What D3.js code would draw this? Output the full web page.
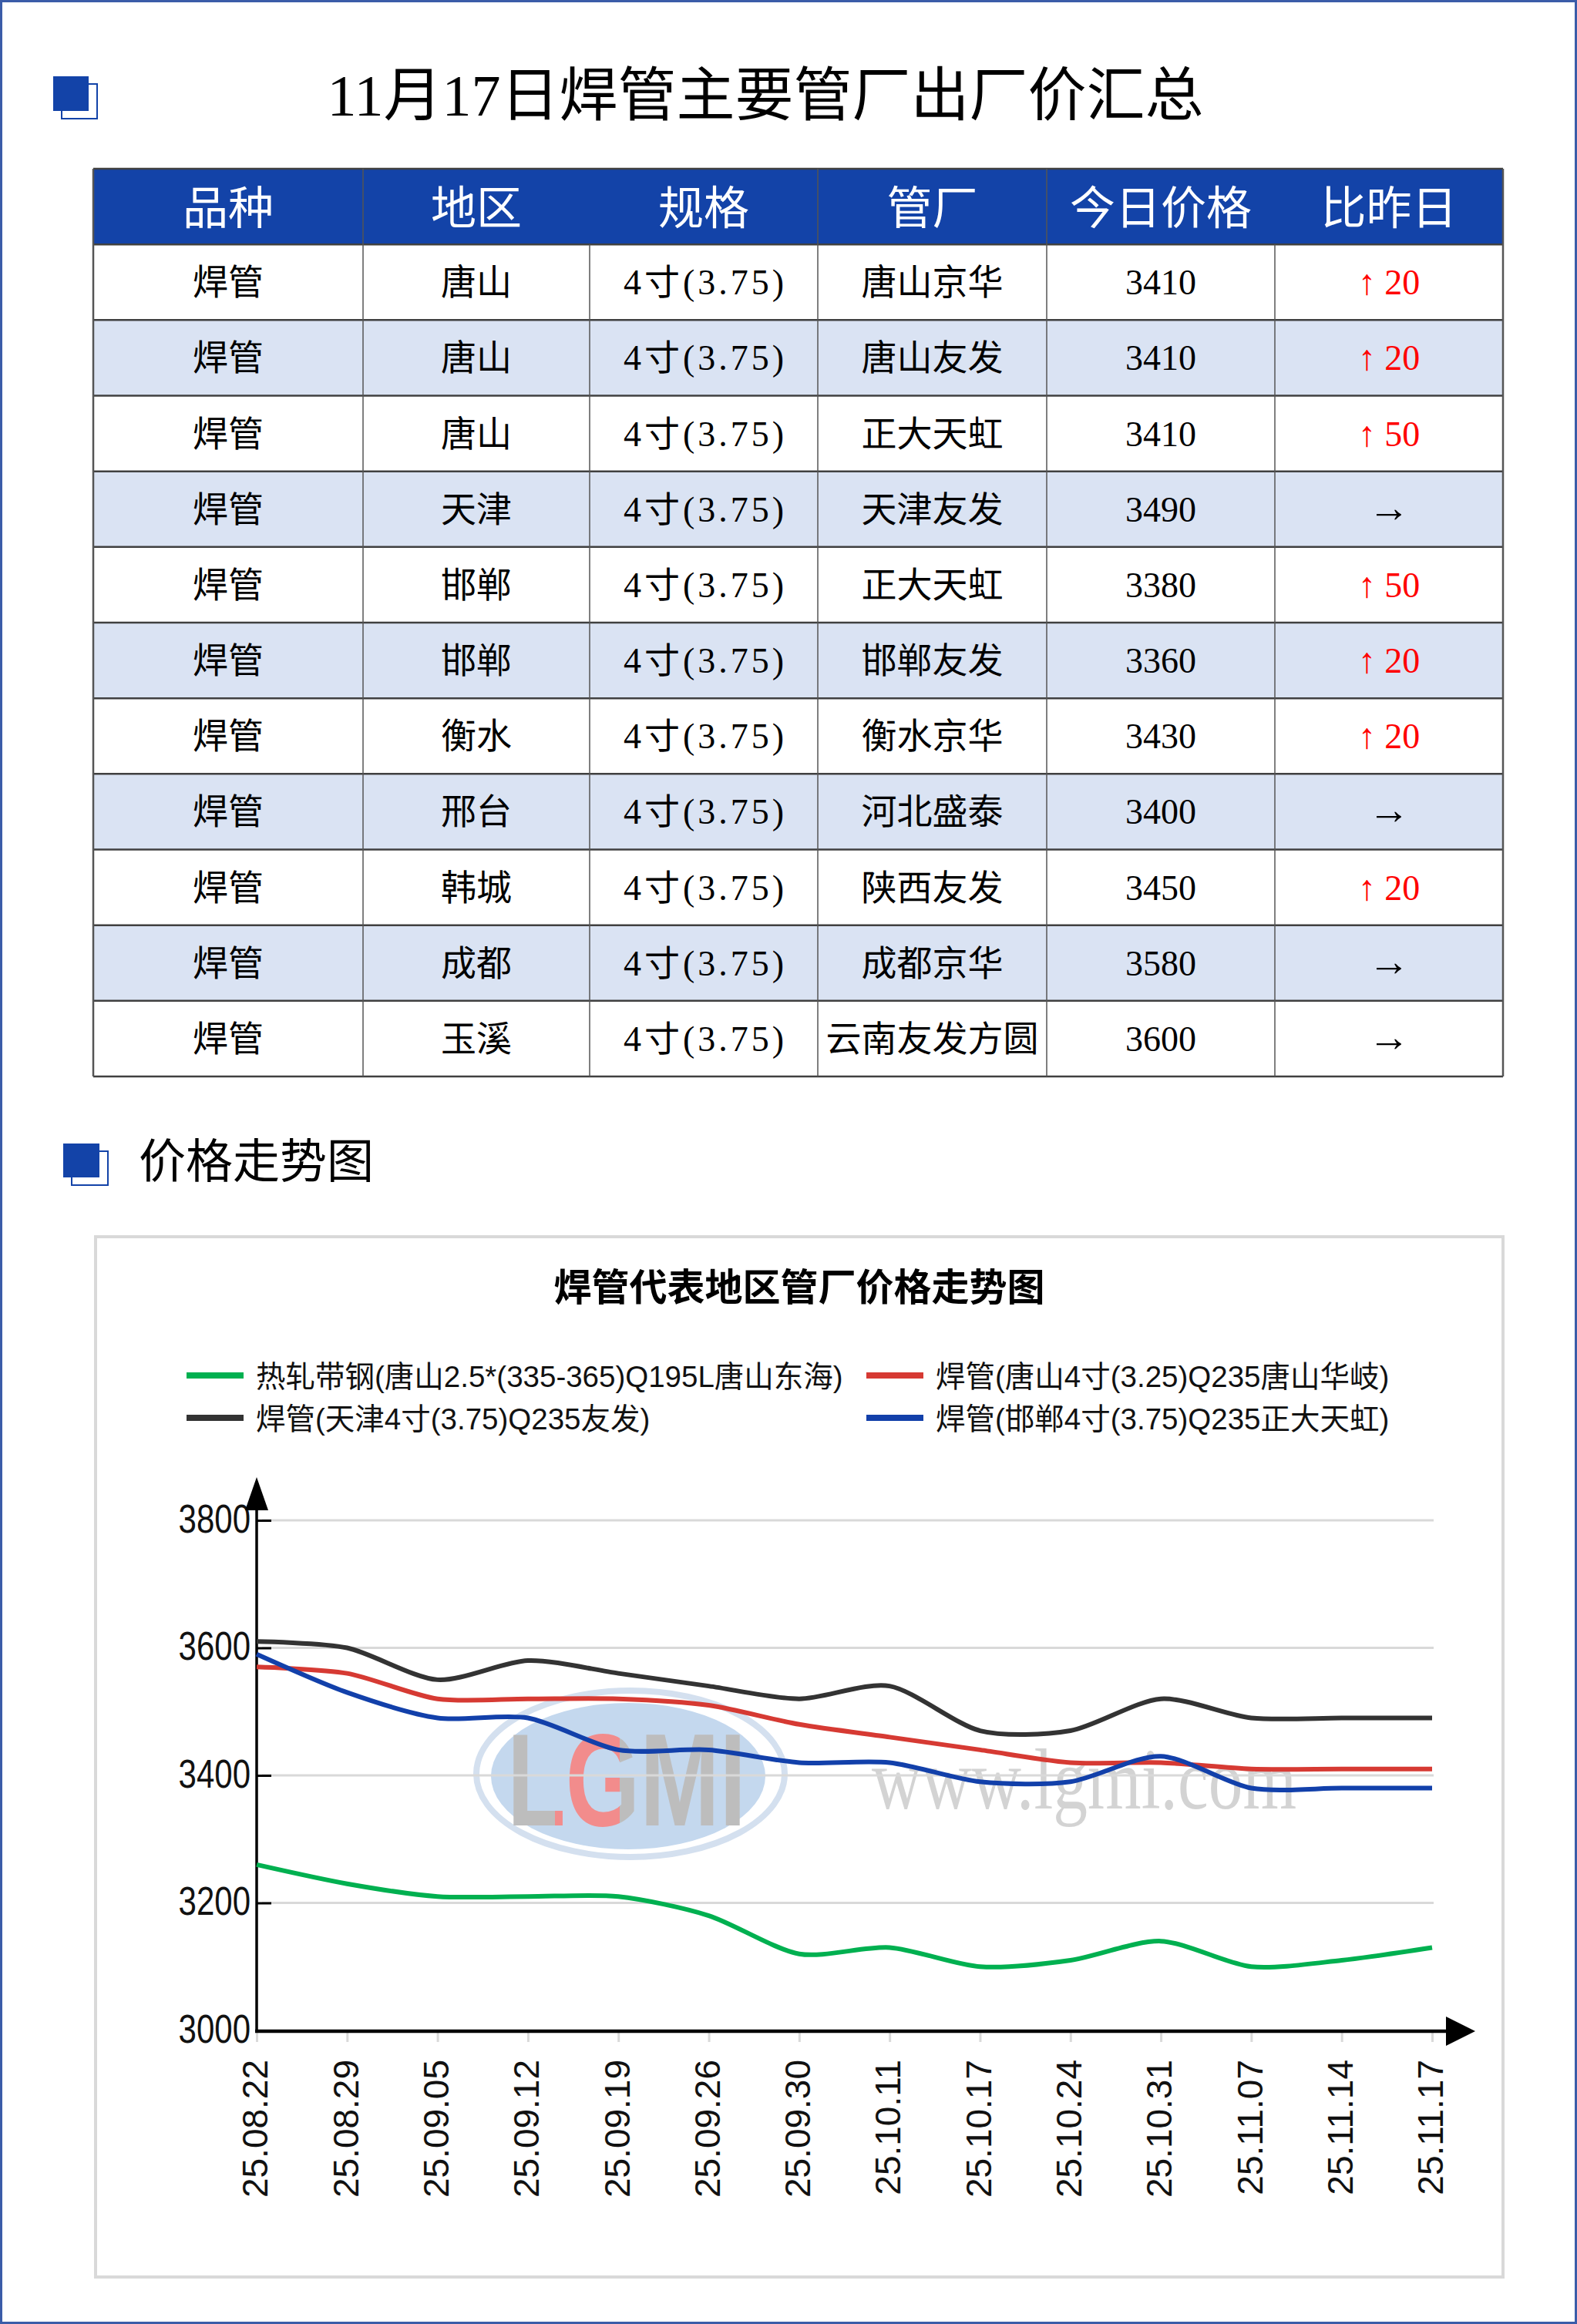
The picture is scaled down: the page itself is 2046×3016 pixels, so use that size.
<!DOCTYPE html>
<html>
<head>
<meta charset="utf-8">
<script src="https://cdn.jsdelivr.net/npm/d3@7"></script>
<style>
  body { margin: 0; background: #fff; }
  svg { display: block; }
</style>
</head>
<body>
<svg width="2046" height="3016"></svg>
<script>
// 表格数据
const tableHeaders = ["品种", "地区", "规格", "管厂", "今日价格", "比昨日"];
const varieties = ["焊管", "焊管", "焊管", "焊管", "焊管", "焊管", "焊管", "焊管", "焊管", "焊管", "焊管"];
const regions = ["唐山", "唐山", "唐山", "天津", "邯郸", "邯郸", "衡水", "邢台", "韩城", "成都", "玉溪"];
const specs = ["4寸(3.75)", "4寸(3.75)", "4寸(3.75)", "4寸(3.75)", "4寸(3.75)", "4寸(3.75)", "4寸(3.75)", "4寸(3.75)", "4寸(3.75)", "4寸(3.75)", "4寸(3.75)"];
const mills = ["唐山京华", "唐山友发", "正大天虹", "天津友发", "正大天虹", "邯郸友发", "衡水京华", "河北盛泰", "陕西友发", "成都京华", "云南友发方圆"];
const prices = [3410, 3410, 3410, 3490, 3380, 3360, 3430, 3400, 3450, 3580, 3600];
const changes = [20, 20, 50, 0, 50, 20, 20, 0, 20, 0, 0];

// 走势图数据
const dates = ["25.08.22", "25.08.29", "25.09.05", "25.09.12", "25.09.19", "25.09.26", "25.09.30",
               "25.10.11", "25.10.17", "25.10.24", "25.10.31", "25.11.07", "25.11.14", "25.11.17"];
const yTicks = [3000, 3200, 3400, 3600, 3800];
const seriesNames = [
  "热轧带钢(唐山2.5*(335-365)Q195L唐山东海)",
  "焊管(唐山4寸(3.25)Q235唐山华岐)",
  "焊管(天津4寸(3.75)Q235友发)",
  "焊管(邯郸4寸(3.75)Q235正大天虹)"
];
const stripTangshan = [3260, 3230, 3210, 3210, 3210, 3180, 3120, 3130, 3100, 3110, 3140, 3100, 3110, 3130];
const pipeTangshan = [3570, 3560, 3520, 3520, 3520, 3510, 3480, 3460, 3440, 3420, 3420, 3410, 3410, 3410];
const pipeTianjin = [3610, 3600, 3550, 3580, 3560, 3540, 3520, 3540, 3470, 3470, 3520, 3490, 3490, 3490];
const pipeHandan = [3590, 3530, 3490, 3490, 3440, 3440, 3420, 3420, 3390, 3390, 3430, 3380, 3380, 3380];

const BLUE = "#1343a8";
const CJK = "'Noto Sans CJK SC', sans-serif";
const SERIF = "'Liberation Serif', 'Noto Sans CJK SC', serif";
const SANS = "'Liberation Sans', 'Noto Sans CJK SC', sans-serif";

const svg = d3.select("svg");

// 页面边框
svg.append("rect")
  .attr("x", 1.5).attr("y", 1.5).attr("width", 2043).attr("height", 3013)
  .attr("fill", "none").attr("stroke", "#3b5ca8").attr("stroke-width", 3);

// 小方块图标
function drawIcon(x, y, w, h) {
  svg.append("rect")
    .attr("x", x + 11).attr("y", y + 10).attr("width", w).attr("height", h)
    .attr("fill", "none").attr("stroke", BLUE).attr("stroke-width", 2);
  svg.append("rect")
    .attr("x", x).attr("y", y).attr("width", w).attr("height", h)
    .attr("fill", BLUE);
}

drawIcon(69, 99, 46, 45);
svg.append("text")
  .attr("x", 993).attr("y", 150)
  .attr("text-anchor", "middle")
  .style("font-family", SERIF).style("font-size", "76px")
  .text("11月17日焊管主要管厂出厂价汇总");

// 表格
const colEdges = [121, 471, 765, 1061, 1358, 1654, 1950];
const rowScale = d3.scaleBand().domain(d3.range(12)).range([219, 1397]);
const rh = rowScale.bandwidth();
const table = svg.append("g");

const rows = varieties.map((v, i) => [v, regions[i], specs[i], mills[i], prices[i], changes[i]]);

table.append("rect")
  .attr("x", colEdges[0]).attr("y", rowScale(0))
  .attr("width", colEdges[6] - colEdges[0]).attr("height", rh)
  .attr("fill", BLUE);

table.selectAll(".bg").data(rows).join("rect")
  .attr("x", colEdges[0]).attr("y", (d, i) => rowScale(i + 1))
  .attr("width", colEdges[6] - colEdges[0]).attr("height", rh)
  .attr("fill", (d, i) => i % 2 === 1 ? "#dae3f3" : "#fff");

table.selectAll(".head").data(tableHeaders).join("text")
  .attr("x", (d, i) => (colEdges[i] + colEdges[i + 1]) / 2)
  .attr("y", rowScale(0) + rh / 2 + 23)
  .attr("text-anchor", "middle")
  .attr("fill", "#fff")
  .style("font-family", CJK).style("font-size", "59px")
  .text(d => d);

const rowG = table.selectAll(".row").data(rows).join("g")
  .attr("transform", (d, i) => `translate(0,${rowScale(i + 1) + rh / 2 + 16})`);

rowG.selectAll("text").data(d => d).join("text")
  .attr("x", (d, j) => (colEdges[j] + colEdges[j + 1]) / 2)
  .attr("text-anchor", "middle")
  .attr("fill", (d, j) => j === 5 && d > 0 ? "#ff0000" : "#000")
  .style("font-family", SERIF)
  .style("font-size", (d, j) => j === 5 && d === 0 ? "54px" : "46px")
  .text((d, j) => j === 5 ? (d > 0 ? "↑ " + d : "→") : d)
  .filter((d, j) => j === 2)
  .attr("textLength", 208).attr("lengthAdjust", "spacing");

// 表格线
const hLines = d3.range(13);
table.selectAll(".hl").data(hLines).join("line")
  .attr("x1", colEdges[0]).attr("x2", colEdges[6])
  .attr("y1", i => i < 12 ? rowScale(i) : rowScale(11) + rh)
  .attr("y2", i => i < 12 ? rowScale(i) : rowScale(11) + rh)
  .attr("stroke", "#404040").attr("stroke-width", 2.5);

table.selectAll(".vl").data(colEdges).join("line")
  .attr("x1", d => d).attr("x2", d => d)
  .attr("y1", (d, i) => (i === 2 || i === 5) ? rowScale(1) : rowScale(0))
  .attr("y2", rowScale(11) + rh)
  .attr("stroke", "#555").attr("stroke-width", (d, i) => (i === 0 || i === 6) ? 2.5 : 1.5);

// 价格走势图 标题
drawIcon(82, 1484, 47, 44);
svg.append("text")
  .attr("x", 180).attr("y", 1529)
  .style("font-family", CJK).style("font-size", "61px")
  .text("价格走势图");

// 图表框
svg.append("rect")
  .attr("x", 124).attr("y", 1605).attr("width", 1826).attr("height", 1350)
  .attr("fill", "#fff").attr("stroke", "#d9d9d9").attr("stroke-width", 4);

svg.append("text")
  .attr("x", 1037).attr("y", 1688)
  .attr("text-anchor", "middle")
  .style("font-family", CJK).style("font-size", "49px").style("font-weight", "bold")
  .text("焊管代表地区管厂价格走势图");

const colors = ["#00b050", "#d63a33", "#333333", "#1240aa"];
const allSeries = [stripTangshan, pipeTangshan, pipeTianjin, pipeHandan];

// 图例
const legend = svg.append("g").selectAll("g").data(seriesNames).join("g")
  .attr("transform", (d, i) => `translate(${i % 2 === 0 ? 242 : 1124},${1785 + Math.floor(i / 2) * 55})`);
legend.append("rect")
  .attr("x", 0).attr("y", -4).attr("width", 74).attr("height", 8)
  .attr("fill", (d, i) => colors[i]);
legend.append("text")
  .attr("x", 90).attr("y", 15)
  .style("font-family", SANS).style("font-size", "38.5px").attr("fill", "#111")
  .text(d => d);

// 水印 (G 用渐变染成粉色, 保持一个文本)
const grad = svg.append("defs").append("linearGradient")
  .attr("id", "logoFill").attr("gradientUnits", "userSpaceOnUse")
  .attr("x1", 658).attr("x2", 968).attr("y1", 0).attr("y2", 0);
[[0, "#bdbdbd"], [0.2, "#bdbdbd"], [0.2, "#f28c8c"], [0.47, "#f28c8c"], [0.47, "#bdbdbd"], [1, "#bdbdbd"]]
  .forEach(([o, c]) => grad.append("stop").attr("offset", o).attr("stop-color", c));

const wm = svg.append("g");
wm.append("ellipse").attr("cx", 818).attr("cy", 2302).attr("rx", 200).attr("ry", 108)
  .attr("fill", "none").attr("stroke", "#d4e0ef").attr("stroke-width", 8);
wm.append("ellipse").attr("cx", 815).attr("cy", 2305).attr("rx", 178).attr("ry", 95)
  .attr("fill", "#c4d8ee");
wm.append("text").attr("x", 658).attr("y", 2369)
  .attr("textLength", 310).attr("lengthAdjust", "spacingAndGlyphs")
  .style("font-family", "'Liberation Sans', sans-serif").style("font-size", "170px").style("font-weight", "bold")
  .attr("fill", "url(#logoFill)")
  .text("LGMI");
wm.append("text").attr("x", 1131).attr("y", 2347)
  .attr("textLength", 551).attr("lengthAdjust", "spacingAndGlyphs")
  .style("font-family", "'Liberation Serif', serif").style("font-size", "112px")
  .attr("fill", "#d3d3d3")
  .text("www.lgmi.com");

// 坐标轴
const x = d3.scalePoint().domain(dates).range([333, 1858]);
const y = d3.scaleLinear().domain([3000, 3800]).range([2635, 1973]);

svg.append("g").selectAll("line").data(yTicks.filter(t => t > 3000)).join("line")
  .attr("x1", 340).attr("x2", 1860)
  .attr("y1", d => y(d)).attr("y2", d => y(d))
  .attr("stroke", "#d9d9d9").attr("stroke-width", 3);

const xAxis = svg.append("g")
  .attr("transform", "translate(0,2637)")
  .call(d3.axisBottom(x).tickSize(13).tickSizeOuter(0));
xAxis.select(".domain").remove();
xAxis.selectAll("line").attr("stroke", "#d9d9d9").attr("stroke-width", 3);
xAxis.selectAll("text")
  .attr("transform", "rotate(-90)")
  .attr("text-anchor", "end")
  .attr("x", -36).attr("y", 0).attr("dy", "0.3em")
  .attr("fill", "#111")
  .style("font-family", SANS).style("font-size", "46px");

const yAxis = svg.append("g")
  .attr("transform", "translate(333,0)")
  .call(d3.axisRight(y).tickValues(yTicks).tickSize(19).tickFormat(""));
yAxis.select(".domain").remove();
yAxis.selectAll("line").attr("stroke", "#000").attr("stroke-width", 3);

const yLabels = svg.append("g")
  .attr("transform", "translate(333,0)")
  .call(d3.axisLeft(y).tickValues(yTicks).tickSize(0).tickPadding(8).tickFormat(d3.format("d")));
yLabels.select(".domain").remove();
yLabels.selectAll("text")
  .attr("fill", "#111")
  .attr("dy", "0.3em")
  .attr("transform", "scale(1,1.22)")
  .style("font-family", SANS).style("font-size", "42px");

// 轴线与箭头
svg.append("line").attr("x1", 333).attr("x2", 333).attr("y1", 2638).attr("y2", 1955)
  .attr("stroke", "#000").attr("stroke-width", 3.5);
svg.append("line").attr("x1", 331).attr("x2", 1880).attr("y1", 2636).attr("y2", 2636)
  .attr("stroke", "#000").attr("stroke-width", 4.5);
svg.append("path").attr("d", "M333,1917 L318,1960 L348,1960 Z").attr("fill", "#000");
svg.append("path").attr("d", "M1914,2636 L1876,2617 L1876,2655 Z").attr("fill", "#000");

// 折线
const line = d3.line()
  .x((d, i) => x(dates[i]))
  .y(d => y(d))
  .curve(d3.curveCardinal.tension(0.2));

svg.append("g").selectAll("path").data(allSeries).join("path")
  .attr("d", d => line(d))
  .attr("fill", "none")
  .attr("stroke", (d, i) => colors[i])
  .attr("stroke-width", 6)
  .attr("stroke-linejoin", "round");
</script>
</body>
</html>
